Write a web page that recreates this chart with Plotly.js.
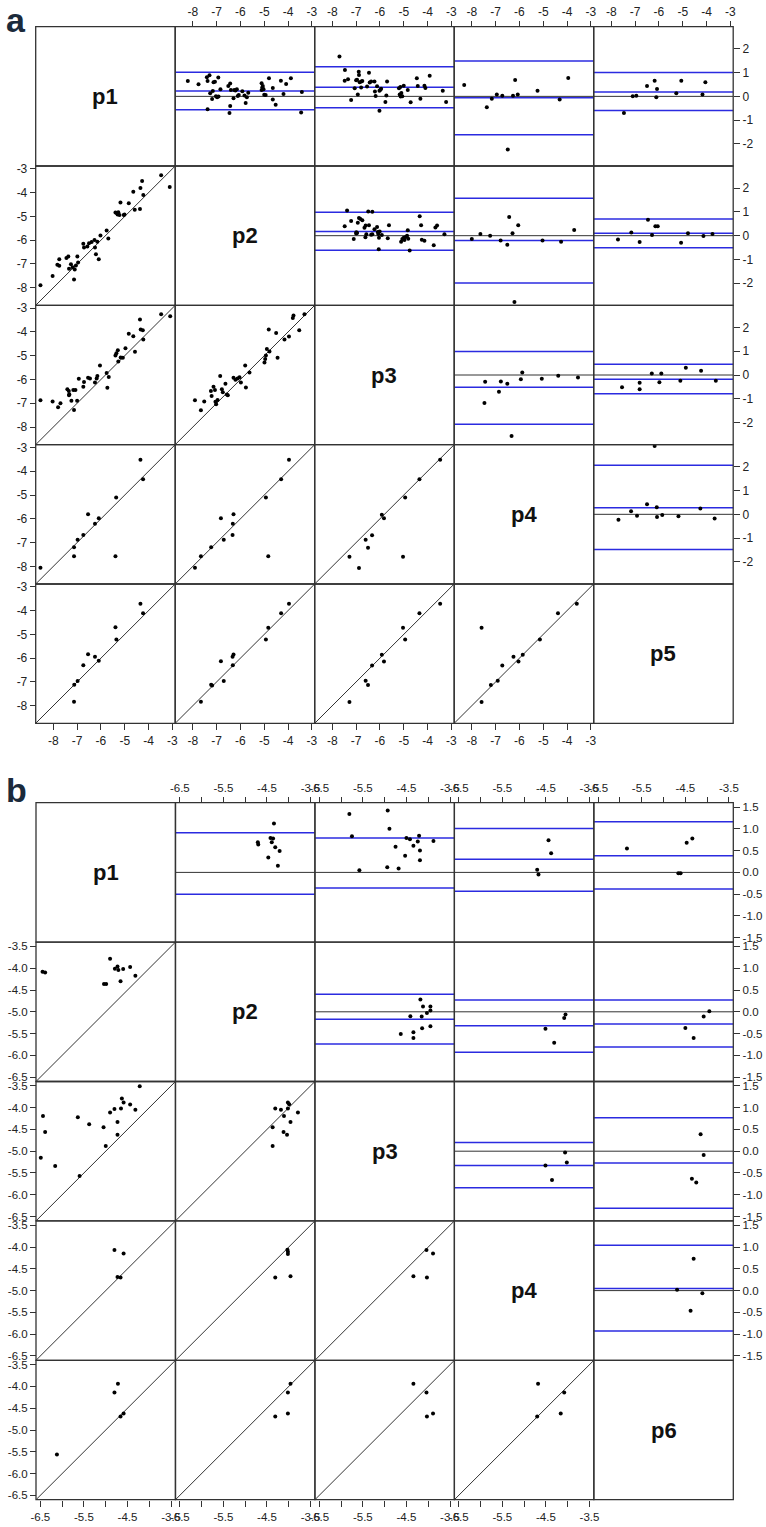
<!DOCTYPE html>
<html><head><meta charset="utf-8">
<script src="https://cdn.plot.ly/plotly-3.0.1.min.js"></script>
<style>html,body{margin:0;padding:0;background:#fff}</style>
</head><body><div id="chart"></div>
<script>
// ---------------- DATA (panel a) ----------------
const labelsA = ["p1","p2","p3","p4","p5"];
const labelsB = ["p1","p2","p3","p4","p6"];
const tickValsA = [-8,-7,-6,-5,-4,-3];
const tickTextA = ["-8","-7","-6","-5","-4","-3"];
const diffValsA = [-2,-1,0,1,2];
const diffTextA = ["-2","-1","0","1","2"];
const tickValsB = [-6.5,-6,-5.5,-5,-4.5,-4,-3.5];
const xTickTextB = ["-6.5","","-5.5","","-4.5","","-3.5"];
const yTickTextB = ["-6.5","-6.0","-5.5","-5.0","-4.5","-4.0","-3.5"];
const diffValsB = [-1.5,-1,-0.5,0,0.5,1,1.5];
const diffTextB = ["-1.5","-1.0","-0.5","0.0","0.5","1.0","1.5"];

// lower cells (row r, col c): x = p_c, y = p_r
const A21x = [-8.54,-8.03,-7.83,-7.75,-7.75,-7.45,-7.37,-7.34,-7.26,-7.19,-7.13,-7.10,-7.05,-6.99,-6.96,-6.74,-6.71,-6.57,-6.50,-6.39,-6.27,-6.25,-6.21,-6.15,-6.09,-6.02,-5.76,-5.69,-5.39,-5.34,-5.30,-5.27,-5.22,-5.18,-5.04,-5.01,-4.83,-4.64,-4.58,-4.36,-4.34,-4.27,-4.22,-3.47,-3.11];
const A21y = [-7.90,-7.51,-7.03,-7.08,-6.80,-6.75,-6.69,-7.20,-7.01,-7.14,-7.65,-7.23,-7.06,-6.69,-6.94,-6.15,-6.31,-6.27,-6.13,-6.08,-5.99,-6.31,-6.59,-6.07,-6.80,-5.80,-5.59,-5.93,-4.83,-4.86,-4.92,-4.82,-4.94,-4.41,-4.94,-4.92,-4.45,-3.96,-4.72,-4.69,-3.80,-3.51,-4.10,-3.27,-3.76];
const A31x = [-8.54,-8.03,-7.80,-7.70,-7.41,-7.35,-7.34,-7.33,-7.24,-7.16,-7.13,-7.07,-7.00,-6.93,-6.74,-6.71,-6.54,-6.46,-6.25,-6.18,-6.15,-6.04,-5.76,-5.73,-5.67,-5.39,-5.35,-5.29,-5.27,-5.17,-5.08,-4.97,-4.83,-4.64,-4.57,-4.36,-4.33,-4.24,-4.22,-3.47,-3.09];
const A31y = [-6.87,-6.92,-7.17,-7.00,-6.41,-6.48,-6.66,-6.62,-6.89,-6.44,-7.28,-6.44,-6.89,-5.97,-6.30,-6.10,-5.93,-5.96,-6.13,-5.96,-5.85,-5.41,-5.73,-6.35,-5.89,-4.99,-4.90,-4.77,-5.24,-5.07,-5.08,-4.69,-4.07,-4.18,-4.83,-3.48,-3.90,-3.93,-4.32,-3.25,-3.34];
const A32x = [-7.91,-7.66,-7.52,-7.24,-7.21,-7.13,-7.07,-7.05,-7.02,-6.96,-6.85,-6.78,-6.74,-6.63,-6.57,-6.53,-6.29,-6.21,-6.12,-6.04,-5.98,-5.77,-5.80,-5.62,-4.99,-4.96,-4.93,-4.89,-4.78,-4.81,-4.50,-4.44,-4.15,-3.96,-3.80,-3.77,-3.53,-3.31];
const A32y = [-6.87,-7.29,-6.92,-6.48,-6.69,-6.30,-6.44,-6.93,-7.04,-6.86,-5.85,-6.41,-6.54,-6.18,-6.63,-6.66,-5.93,-6.01,-5.96,-5.90,-6.13,-6.34,-5.41,-5.70,-5.28,-5.14,-4.99,-4.72,-4.82,-3.90,-4.04,-5.08,-4.32,-4.19,-3.41,-3.31,-3.93,-3.25];
const A41x = [-8.54,-7.13,-7.13,-6.98,-6.74,-6.54,-6.25,-6.09,-5.36,-5.39,-4.34,-4.23];
const A41y = [-8.06,-7.20,-7.57,-6.88,-6.68,-5.81,-6.21,-5.98,-5.10,-7.57,-3.51,-4.34];
const A42x = [-7.91,-7.66,-7.23,-6.82,-6.70,-6.33,-6.32,-6.29,-4.93,-4.83,-4.29,-3.96];
const A42y = [-8.06,-7.57,-7.20,-5.98,-6.88,-6.68,-6.21,-5.81,-5.10,-7.57,-4.34,-3.51];
const A43x = [-7.28,-6.88,-6.60,-6.50,-6.33,-5.92,-5.83,-5.03,-4.94,-4.34,-3.47];
const A43y = [-7.59,-8.07,-6.88,-7.22,-6.69,-5.83,-5.98,-7.59,-5.10,-4.34,-3.51];
const A51x = [-7.13,-7.12,-6.98,-6.74,-6.54,-6.25,-6.09,-5.39,-5.35,-4.34,-4.23];
const A51y = [-7.83,-7.12,-6.96,-6.30,-5.84,-5.94,-6.11,-4.70,-5.22,-3.71,-4.11];
const A52x = [-7.66,-7.23,-7.19,-6.82,-6.70,-6.33,-6.29,-6.32,-4.93,-4.83,-4.29,-3.96];
const A52y = [-7.83,-7.12,-7.15,-6.13,-6.96,-5.94,-5.85,-6.30,-5.22,-4.72,-4.11,-3.71];
const A53x = [-7.28,-6.60,-6.50,-6.33,-5.92,-5.83,-5.03,-4.94,-4.34,-3.47];
const A53y = [-7.84,-6.95,-7.13,-6.31,-5.86,-6.14,-4.72,-5.22,-4.11,-3.71];
const A54x = [-7.59,-7.59,-7.20,-6.91,-6.72,-6.25,-6.04,-5.86,-5.14,-4.38,-3.59];
const A54y = [-4.72,-7.84,-7.13,-6.95,-6.31,-5.94,-6.14,-5.86,-5.22,-4.11,-3.71];

// upper cells (row r, col c): x = mean, y = difference; lines = limits / mean
const A12m = [-8.21,-7.76,-7.41,-7.38,-7.30,-7.27,-7.19,-7.16,-7.13,-7.07,-7.03,-6.98,-6.93,-6.92,-6.84,-6.51,-6.43,-6.43,-6.40,-6.29,-6.26,-6.21,-6.15,-6.11,-6.07,-5.92,-5.83,-5.78,-5.67,-5.73,-5.11,-5.08,-5.06,-5.11,-5.03,-5.00,-4.94,-4.80,-4.64,-4.64,-4.52,-4.30,-4.19,-4.08,-3.88,-3.42,-3.45,-7.38,-6.46];
const A12d = [0.65,0.51,0.80,0.65,0.89,0.13,-0.11,0.23,0.59,0.61,0.00,-0.04,0.79,-0.01,0.30,0.44,-0.41,0.54,0.27,-0.08,0.27,0.25,0.30,0.01,0.06,0.21,0.04,-0.28,0.15,-0.04,0.55,0.38,0.44,0.27,0.30,0.07,0.06,0.76,0.35,-0.13,-0.35,0.66,0.10,0.52,0.76,0.18,-0.68,-0.54,-0.70];
const A12lines = [1.01,0.23,-0.56];
const A13m = [-7.70,-7.47,-7.48,-7.34,-7.21,-7.06,-7.00,-6.96,-6.93,-6.89,-6.88,-6.85,-6.79,-6.78,-6.74,-6.54,-6.46,-6.43,-6.37,-6.23,-6.21,-6.18,-6.12,-6.02,-6.02,-5.98,-5.95,-5.77,-5.70,-5.73,-5.20,-5.17,-5.14,-5.13,-5.10,-5.06,-5.00,-4.83,-4.71,-4.45,-4.41,-4.30,-4.13,-4.09,-3.91,-3.36,-3.22];
const A13d = [1.68,1.11,0.66,0.72,-0.15,0.34,0.68,0.70,0.08,1.04,0.90,0.59,0.37,0.62,0.65,0.41,0.99,0.58,0.62,0.62,0.20,0.01,0.42,-0.61,0.24,0.28,0.32,-0.24,0.63,0.04,0.34,0.08,0.39,-0.01,0.14,0.00,0.45,0.27,-0.25,0.76,0.44,-0.10,0.45,0.35,0.87,0.24,-0.24];
const A13lines = [1.25,0.38,-0.48];
const A14m = [-8.32,-7.37,-7.16,-6.95,-6.72,-6.49,-6.27,-6.18,-6.07,-5.24,-4.31,-3.95];
const A14d = [0.48,-0.46,-0.10,0.08,0.03,-2.23,0.03,0.69,0.08,0.24,-0.13,0.77];
const A14lines = [1.49,-0.06,-1.61];
const A15m = [-7.47,-7.10,-6.95,-6.50,-6.18,-6.08,-6.11,-5.27,-5.06,-4.17,-4.05];
const A15d = [-0.70,0.00,0.03,0.44,0.66,0.31,-0.04,0.13,0.66,0.08,0.59];
const A15lines = [1.00,0.18,-0.59];
const A23m = [-7.48,-7.38,-7.21,-7.10,-7.00,-6.99,-6.96,-6.93,-6.88,-6.82,-6.74,-6.65,-6.61,-6.60,-6.57,-6.49,-6.46,-6.37,-6.32,-6.32,-6.23,-6.12,-6.09,-6.07,-6.04,-6.01,-6.05,-5.92,-5.67,-5.62,-5.11,-5.06,-5.00,-4.97,-4.92,-4.86,-4.83,-4.81,-4.75,-4.33,-4.27,-4.24,-4.13,-3.74,-3.67,-3.60,-3.29];
const A23d = [0.40,1.06,0.62,-0.14,0.09,0.14,0.11,0.54,0.74,0.70,0.65,0.33,-0.07,0.43,0.06,1.02,0.44,0.04,1.01,0.06,0.27,0.37,0.16,0.07,-0.09,0.18,-0.57,0.03,-0.11,0.44,-0.26,-0.14,-0.09,-0.18,-0.06,0.00,0.23,-0.13,-0.62,0.82,0.44,-0.17,-0.21,-0.40,0.34,0.43,0.06];
const A23lines = [0.99,0.18,-0.61];
const A24m = [-8.00,-7.64,-7.23,-6.79,-6.51,-6.43,-6.29,-6.05,-5.03,-4.25,-3.70,-6.21];
const A24d = [-0.14,0.07,0.00,-0.20,-0.38,0.79,0.10,0.44,-0.20,-0.26,0.24,-2.79];
const A24lines = [1.57,-0.20,-1.99];
const A25m = [-7.72,-7.16,-6.81,-6.46,-6.29,-6.15,-6.05,-5.07,-4.78,-4.13,-3.75];
const A25d = [-0.16,0.13,-0.27,0.67,0.03,0.40,0.40,-0.30,0.10,-0.01,0.07];
const A25lines = [0.70,0.10,-0.51];
const A34m = [-7.44,-7.47,-6.86,-6.78,-6.51,-5.94,-5.88,-5.06,-4.37,-3.54,-6.33];
const A34d = [-0.28,-1.18,-0.70,-0.27,-0.37,-0.18,0.10,-0.16,-0.03,-0.10,-2.57];
const A34lines = [0.99,-0.52,-2.07];
const A35m = [-7.55,-6.81,-6.81,-6.30,-5.98,-5.90,-5.10,-4.87,-4.23,-3.61];
const A35d = [-0.52,-0.33,-0.60,0.06,-0.30,0.06,-0.24,0.31,0.18,-0.24];
const A35lines = [0.45,-0.18,-0.79];
const A45m = [-7.70,-7.17,-6.92,-6.50,-6.18,-6.09,-6.08,-5.86,-5.18,-4.26,-3.66];
const A45d = [-0.23,0.13,-0.06,0.42,2.87,0.30,-0.11,-0.03,-0.08,0.24,-0.18];
const A45lines = [2.06,0.28,-1.48];

// ---------------- DATA (panel b) ----------------
const B21x = [-6.45,-6.39,-5.04,-4.99,-4.90,-4.79,-4.73,-4.71,-4.66,-4.60,-4.44,-4.32];
const B21y = [-4.08,-4.10,-4.36,-4.36,-3.78,-4.01,-3.96,-4.04,-4.30,-4.02,-3.97,-4.17];
const B31x = [-6.49,-6.44,-6.39,-6.16,-5.64,-5.60,-5.38,-5.05,-5.00,-4.90,-4.80,-4.73,-4.73,-4.65,-4.63,-4.59,-4.44,-4.32,-4.22];
const B31y = [-5.15,-4.19,-4.56,-5.34,-4.22,-5.57,-4.38,-4.45,-4.88,-4.11,-4.03,-4.33,-4.62,-4.02,-3.79,-3.88,-3.93,-4.05,-3.51];
const B32x = [-4.37,-4.37,-4.31,-4.18,-4.11,-4.12,-4.04,-4.02,-4.02,-3.99,-3.96,-3.79];
const B32y = [-4.45,-4.88,-4.02,-4.05,-4.19,-4.56,-4.62,-4.02,-3.88,-3.92,-4.33,-4.11];
const B41x = [-4.80,-4.73,-4.66,-4.59];
const B41y = [-4.07,-4.69,-4.70,-4.15];
const B42x = [-4.31,-4.03,-4.02,-4.02,-3.96];
const B42y = [-4.70,-4.06,-4.11,-4.16,-4.67];
const B43x = [-4.34,-4.04,-4.03,-3.89];
const B43y = [-4.67,-4.07,-4.70,-4.15];
const B51x = [-6.12,-4.80,-4.72,-4.66,-4.59];
const B51y = [-5.56,-4.14,-3.94,-4.69,-4.62];
const B52x = [-4.31,-4.02,-4.02,-3.96];
const B52y = [-4.69,-4.14,-4.62,-3.94];
const B53x = [-4.34,-4.04,-4.03,-3.89];
const B53y = [-3.94,-4.14,-4.69,-4.62];
const B54x = [-4.70,-4.68,-4.16,-4.08];
const B54y = [-4.69,-3.94,-4.62,-4.14];

const B12m = [-4.34,-4.71,-4.70,-4.42,-4.36,-4.39,-4.31,-4.21,-4.47,-4.25];
const B12d = [1.12,0.69,0.64,0.79,0.78,0.69,0.58,0.49,0.34,0.15];
const B12lines = [0.91,-0.50];
const B13m = [-5.81,-4.93,-5.75,-4.89,-4.50,-4.42,-4.21,-4.24,-4.34,-4.19,-3.88,-4.75,-4.53,-4.19,-5.58,-4.94,-4.68];
const B13d = [1.34,1.42,0.83,1.00,0.79,0.76,0.84,0.71,0.61,0.50,0.72,0.59,0.38,0.28,0.05,0.12,0.09];
const B13lines = [0.79,-0.36];
const B14m = [-4.44,-4.38,-4.70,-4.67];
const B14d = [0.74,0.44,0.06,-0.05];
const B14lines = [1.01,0.30,-0.43];
const B15m = [-5.84,-4.66,-4.61,-4.47,-4.34];
const B15d = [0.55,-0.02,-0.02,0.68,0.78];
const B15lines = [1.16,0.38,-0.38];
const B23m = [-4.18,-4.12,-3.95,-3.95,-4.03,-4.41,-4.15,-3.95,-4.14,-4.34,-4.63,-4.34];
const B23d = [0.28,0.12,0.12,0.03,-0.03,-0.10,-0.11,-0.33,-0.38,-0.47,-0.51,-0.60];
const B23lines = [0.40,-0.17,-0.74];
const B24m = [-4.05,-4.08,-4.51,-4.31];
const B24d = [-0.06,-0.14,-0.39,-0.71];
const B24lines = [0.27,-0.32,-0.93];
const B25m = [-3.95,-4.08,-4.50,-4.31];
const B25d = [0.01,-0.11,-0.37,-0.60];
const B25lines = [0.27,-0.28,-0.81];
const B34m = [-4.06,-4.02,-4.51,-4.36];
const B34d = [-0.03,-0.26,-0.33,-0.66];
const B34lines = [0.20,-0.33,-0.84];
const B35m = [-4.15,-4.08,-4.35,-4.25];
const B35d = [0.39,-0.09,-0.63,-0.72];
const B35lines = [0.77,-0.27,-1.31];
const B45m = [-4.31,-4.69,-4.11,-4.38];
const B45d = [0.73,0.02,-0.06,-0.46];
const B45lines = [1.04,0.05,-0.93];

// ---------------- BUILD ----------------
const W = 766, H = 1527;
const fx = v => v / W, fy = v => 1 - v / H;
const FONT = '"Liberation Sans", Arial, sans-serif';
const layout = {width: W, height: H, margin: {l:0, r:0, t:0, b:0, pad:0},
  paper_bgcolor: '#fff', plot_bgcolor: 'rgba(0,0,0,0)', showlegend: false,
  shapes: [], annotations: []};
const traces = [];
const nm = (a, n) => n === 1 ? a + 'axis' : a + 'axis' + n;
const rf = (a, n) => n === 1 ? a : a + n;
const BLUE = '#2b2be0', DARK = '#333333';

function panel(P) {
  const colDom = c => [fx(P.left + c * P.cw), fx(P.left + (c + 1) * P.cw)];
  const rowDom = r => [fy(P.top + (r + 1) * P.ch), fy(P.top + r * P.ch)];
  const topPos = fy(P.top), botPos = fy(P.top + 5 * P.ch);
  const leftPos = fx(P.left), rightPos = fx(P.left + 5 * P.cw);
  const base = {ticks: 'outside', ticklen: 6, tickwidth: 1, tickcolor: DARK,
    showgrid: false, zeroline: false, showline: false, tickangle: 0, fixedrange: true,
    tickfont: {family: FONT, size: P.fs, color: '#222'}, anchor: 'free'};
  const xMain = [], xTop = [], yVal = [], yDiff = [];
  for (let c = 0; c < 5; c++) {
    const n = P.base + c + 1; xMain[c] = rf('x', n);
    layout[nm('x', n)] = Object.assign({}, base, {domain: colDom(c), range: P.range,
      tickvals: P.vals, ticktext: P.xtext, side: c < 4 ? 'bottom' : 'top', position: c < 4 ? botPos : topPos});
    if (c >= 1 && c <= 3) {
      const m = P.base + 6 + c; xTop[c] = rf('x', m);
      layout[nm('x', m)] = Object.assign({}, base, {domain: colDom(c), range: P.range,
        tickvals: P.vals, ticktext: P.xtext, side: 'top', position: topPos});
    }
  }
  for (let r = 1; r < 5; r++) {
    const n = P.base + r + 1; yVal[r] = rf('y', n);
    layout[nm('y', n)] = Object.assign({}, base, {domain: rowDom(r), range: P.range,
      tickvals: P.vals, ticktext: P.ytext, side: 'left', position: leftPos});
  }
  for (let r = 0; r < 4; r++) {
    const n = P.base + 6 + r; yDiff[r] = rf('y', n);
    layout[nm('y', n)] = Object.assign({}, base, {domain: rowDom(r), range: P.drange,
      tickvals: P.dvals, ticktext: P.dtext, side: 'right', position: rightPos});
  }
  // dummy traces so the extra top axes get drawn
  for (let c = 1; c <= 3; c++) traces.push({type: 'scatter', mode: 'markers', x: [], y: [],
    xaxis: xTop[c], yaxis: yDiff[0], hoverinfo: 'skip'});
  // lower cells
  P.lower.forEach(cell => {
    const xa = xMain[cell.c], ya = yVal[cell.r];
    traces.push({type: 'scatter', mode: 'lines', x: P.range, y: P.range, xaxis: xa, yaxis: ya,
      line: {color: DARK, width: 1}, hoverinfo: 'skip'});
    traces.push({type: 'scatter', mode: 'markers', x: cell.x, y: cell.y, xaxis: xa, yaxis: ya,
      marker: {color: '#000', size: 4}, cliponaxis: false});
  });
  // upper cells
  P.upper.forEach(cell => {
    const xa = xMain[cell.c], ya = yDiff[cell.r];
    layout.shapes.push({type: 'line', xref: xa + ' domain', x0: 0, x1: 1, yref: ya, y0: 0, y1: 0,
      line: {color: DARK, width: 1}, layer: 'below'});
    cell.lines.forEach(v => layout.shapes.push({type: 'line', xref: xa + ' domain', x0: 0, x1: 1,
      yref: ya, y0: v, y1: v, line: {color: BLUE, width: 1.5}, layer: 'below'}));
    traces.push({type: 'scatter', mode: 'markers', x: cell.x, y: cell.y, xaxis: xa, yaxis: ya,
      marker: {color: '#000', size: 4}, cliponaxis: false});
  });
  // cell borders and diagonal labels
  for (let r = 0; r < 5; r++) for (let c = 0; c < 5; c++) {
    layout.shapes.push({type: 'rect', xref: 'paper', yref: 'paper',
      x0: fx(P.left + c * P.cw), x1: fx(P.left + (c + 1) * P.cw),
      y0: fy(P.top + (r + 1) * P.ch), y1: fy(P.top + r * P.ch),
      line: {color: DARK, width: 1.3}, fillcolor: 'rgba(0,0,0,0)', layer: 'above'});
  }
  P.labels.forEach((t, i) => layout.annotations.push({text: '<b>' + t + '</b>', xref: 'paper', yref: 'paper',
    x: fx(P.left + (i + 0.5) * P.cw), y: fy(P.top + (i + 0.5) * P.ch), xanchor: 'center', yanchor: 'middle',
    showarrow: false, font: {family: FONT, size: 22, color: '#111'}}));
  layout.annotations.push({text: '<b>' + P.letter + '</b>', xref: 'paper', yref: 'paper',
    x: fx(P.lx), y: fy(P.ly), xanchor: 'left', yanchor: 'middle', showarrow: false,
    font: {family: FONT, size: 34, color: '#1b2a3b'}});
}

panel({base: 0, left: 35.7, top: 26.7, cw: 139.5, ch: 139.32, fs: 12,
  range: [-8.74, -2.88], vals: tickValsA, xtext: tickTextA, ytext: tickTextA,
  drange: [-2.93, 2.93], dvals: diffValsA, dtext: diffTextA, labels: labelsA, letter: 'a', lx: 4, ly: 20,
  lower: [
    {r:1,c:0,x:A21x,y:A21y},{r:2,c:0,x:A31x,y:A31y},{r:2,c:1,x:A32x,y:A32y},
    {r:3,c:0,x:A41x,y:A41y},{r:3,c:1,x:A42x,y:A42y},{r:3,c:2,x:A43x,y:A43y},
    {r:4,c:0,x:A51x,y:A51y},{r:4,c:1,x:A52x,y:A52y},{r:4,c:2,x:A53x,y:A53y},{r:4,c:3,x:A54x,y:A54y}],
  upper: [
    {r:0,c:1,x:A12m,y:A12d,lines:A12lines},{r:0,c:2,x:A13m,y:A13d,lines:A13lines},
    {r:0,c:3,x:A14m,y:A14d,lines:A14lines},{r:0,c:4,x:A15m,y:A15d,lines:A15lines},
    {r:1,c:2,x:A23m,y:A23d,lines:A23lines},{r:1,c:3,x:A24m,y:A24d,lines:A24lines},
    {r:1,c:4,x:A25m,y:A25d,lines:A25lines},{r:2,c:3,x:A34m,y:A34d,lines:A34lines},
    {r:2,c:4,x:A35m,y:A35d,lines:A35lines},{r:3,c:4,x:A45m,y:A45d,lines:A45lines}]
});
panel({base: 10, left: 36, top: 802.7, cw: 139.46, ch: 139.4, fs: 11.5,
  range: [-6.6, -3.4], vals: tickValsB, xtext: xTickTextB, ytext: yTickTextB,
  drange: [-1.6, 1.6], dvals: diffValsB, dtext: diffTextB, labels: labelsB, letter: 'b', lx: 4, ly: 790,
  lower: [
    {r:1,c:0,x:B21x,y:B21y},{r:2,c:0,x:B31x,y:B31y},{r:2,c:1,x:B32x,y:B32y},
    {r:3,c:0,x:B41x,y:B41y},{r:3,c:1,x:B42x,y:B42y},{r:3,c:2,x:B43x,y:B43y},
    {r:4,c:0,x:B51x,y:B51y},{r:4,c:1,x:B52x,y:B52y},{r:4,c:2,x:B53x,y:B53y},{r:4,c:3,x:B54x,y:B54y}],
  upper: [
    {r:0,c:1,x:B12m,y:B12d,lines:B12lines},{r:0,c:2,x:B13m,y:B13d,lines:B13lines},
    {r:0,c:3,x:B14m,y:B14d,lines:B14lines},{r:0,c:4,x:B15m,y:B15d,lines:B15lines},
    {r:1,c:2,x:B23m,y:B23d,lines:B23lines},{r:1,c:3,x:B24m,y:B24d,lines:B24lines},
    {r:1,c:4,x:B25m,y:B25d,lines:B25lines},{r:2,c:3,x:B34m,y:B34d,lines:B34lines},
    {r:2,c:4,x:B35m,y:B35d,lines:B35lines},{r:3,c:4,x:B45m,y:B45d,lines:B45lines}]
});

Plotly.newPlot('chart', traces, layout, {staticPlot: true, displayModeBar: false});
</script>
</body></html>
